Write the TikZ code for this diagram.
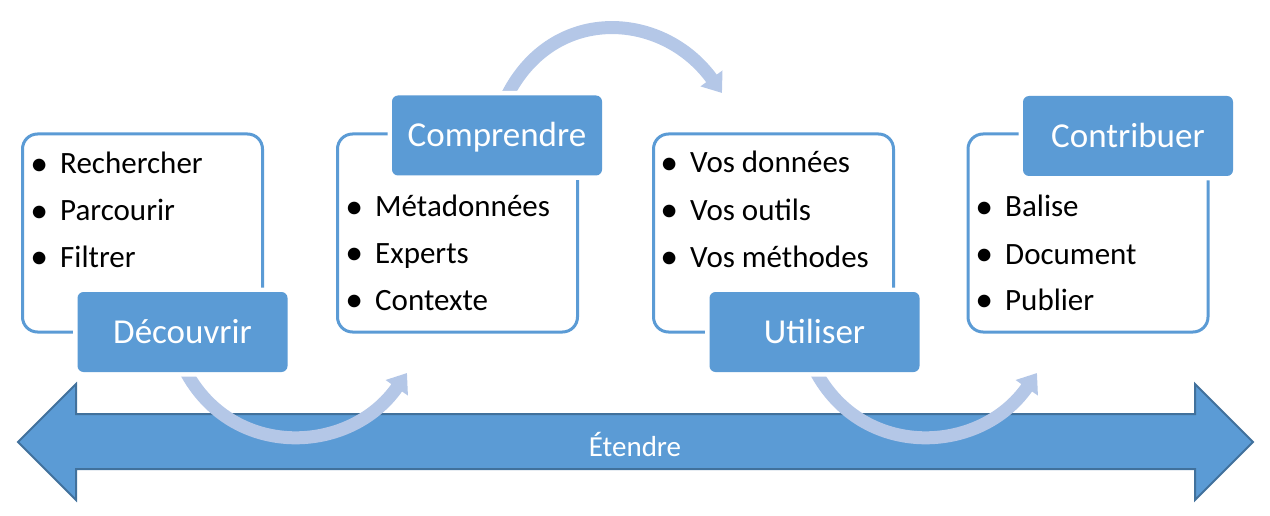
\documentclass[tikz,border=0pt]{standalone}
\usepackage{fontspec}
\setmainfont{Carlito}
\usetikzlibrary{arrows.meta}
\definecolor{accent}{HTML}{5B9BD5}
\definecolor{accentdark}{HTML}{41719C}
\definecolor{accentlight}{HTML}{B4C7E7}
\tikzset{
  listbox/.style={draw=accent, line width=3pt, rounded corners=15pt, minimum width=240pt, minimum height=198pt, inner sep=0pt, fill=white},
  labelbox/.style={fill=accent, rounded corners=6pt, minimum width=210pt, minimum height=80pt, inner sep=0pt, text=white, font=\fontsize{35pt}{42pt}\selectfont, text height=23pt, text depth=0pt, preaction={draw=white, line width=9pt}},
  item/.style={anchor=base west, inner sep=0pt, font=\fontsize{31pt}{37pt}\selectfont},
  flow/.style={draw=accentlight, line width=13pt, -{Triangle[width=26pt,length=18pt]}},
  bigarrow/.style={fill=accent, draw=accentdark, line width=2pt, line join=miter},
}
\newcommand{\bul}{\llap{\raisebox{-1.5pt}{\scalebox{1.15}{•}}\hspace{12pt}}}
\begin{document}
\begin{tikzpicture}[x=1pt,y=-1pt]
\useasboundingbox (0,0) rectangle (1270,516);
% outlined list boxes
\node[listbox] (box1) at (142.5,233) {};
\node[listbox] (box2) at (457.5,233) {};
\node[listbox] (box3) at (773.5,233) {};
\node[listbox] (box4) at (1088,233) {};
% big double arrow
\draw[bigarrow] (18,442) -- (76,384) -- (76,414) -- (1195,414) -- (1195,384) -- (1253,442) -- (1195,500) -- (1195,469) -- (76,469) -- (76,500) -- cycle;
\node[anchor=base, inner sep=0pt, text=white, font=\fontsize{29pt}{35pt}\selectfont] (etendre) at (635,456) {Étendre};
% curved flow arrows
\coordinate (s1) at (185,370);
\coordinate (e1) at (407,373);
\coordinate (s2) at (505,100);
\coordinate (e2) at (722,93);
\coordinate (s3) at (815,370);
\coordinate (e3) at (1037,373);
\draw[flow] (s1) .. controls (232,460) and (350,455) .. (e1);
\draw[flow] (s2) .. controls (550,4) and (662,10) .. (e2);
\draw[flow] (s3) .. controls (862,460) and (980,455) .. (e3);
% label boxes
\node[labelbox] (decouvrir) at (182.5,332) {Découvrir};
\node[labelbox] (comprendre) at (497,135.5) {Comprendre};
\node[labelbox] (utiliser) at (814.5,332) {Utiliser};
\node[labelbox] (contribuer) at (1128,136) {Contribuer};
% list items
\node[item] (a1) at (60,174) {\bul Rechercher};
\node[item] (a2) at (60,221) {\bul Parcourir};
\node[item] (a3) at (60,267) {\bul Filtrer};
\node[item] (b1) at (375,217) {\bul Métadonnées};
\node[item] (b2) at (375,263) {\bul Experts};
\node[item] (b3) at (375,310) {\bul Contexte};
\node[item] (c1) at (690,173) {\bul Vos données};
\node[item] (c2) at (690,220) {\bul Vos outils};
\node[item] (c3) at (690,267) {\bul Vos méthodes};
\node[item] (d1) at (1005,217) {\bul Balise};
\node[item] (d2) at (1005,264) {\bul Document};
\node[item] (d3) at (1005,310) {\bul Publier};
\end{tikzpicture}
\end{document}
